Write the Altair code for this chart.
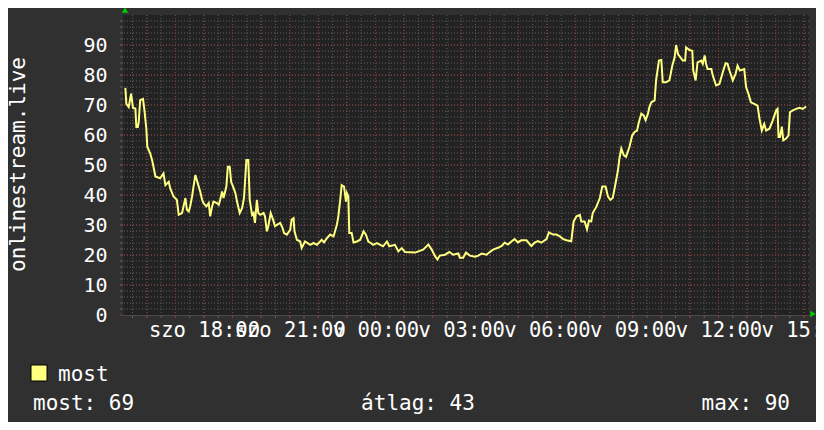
import altair as alt
import pandas as pd

# ---------------- data ----------------
DAY1 = "2024-03-16"   # szombat (szo)
DAY2 = "2024-03-17"   # vasárnap (v)

sat_times = ["15:15", "15:17", "15:22", "15:27", "15:31", "15:36", "15:38", "15:41", "15:43", "15:46",
             "15:52", "15:55", "15:59", "16:01", "16:07", "16:11", "16:14", "16:18", "16:28", "16:35",
             "16:39", "16:46", "16:49", "16:56", "17:03", "17:07", "17:14", "17:17", "17:21", "17:24",
             "17:28", "17:31", "17:35", "17:38", "17:42", "17:45", "17:49", "17:52", "17:56", "17:59",
             "18:05", "18:10", "18:13", "18:17", "18:20", "18:27", "18:31", "18:34", "18:38", "18:41",
             "18:47", "18:50", "18:54", "18:57", "19:01", "19:06", "19:10", "19:15", "19:20", "19:24",
             "19:29", "19:33", "19:36", "19:41", "19:44", "19:47", "19:51", "19:54", "19:58", "20:05",
             "20:08", "20:12", "20:15", "20:20", "20:25", "20:29", "20:34", "20:40", "20:45", "20:48",
             "20:54", "21:01", "21:04", "21:08", "21:10", "21:15", "21:22", "21:25", "21:32", "21:43",
             "21:50", "21:57", "22:04", "22:07", "22:12", "22:18", "22:25", "22:32", "22:39", "22:42",
             "22:46", "22:49", "22:54", "22:58", "23:00", "23:03", "23:05", "23:10", "23:14", "23:21",
             "23:28", "23:35", "23:40", "23:45", "23:50", "23:55"]
sat_values = [75.7, 70.4, 69.3, 73.8, 69.0, 68.8, 62.7, 62.7, 64.3, 71.6,
              72.0, 68.2, 62.0, 56.1, 53.9, 51.7, 49.4, 46.2, 45.6, 47.2,
              43.3, 44.4, 42.3, 39.5, 38.4, 33.4, 34.0, 36.2, 39.0, 35.1,
              34.5, 36.2, 39.5, 42.8, 46.7, 45.0, 42.8, 41.2, 38.4, 37.3,
              36.2, 37.3, 32.9, 36.2, 37.8, 37.3, 36.7, 38.4, 41.2, 39.0,
              42.8, 49.4, 49.4, 44.4, 42.8, 40.6, 37.3, 34.0, 35.6, 39.0,
              51.7, 51.7, 38.4, 33.4, 34.0, 30.7, 38.4, 34.0, 33.4, 34.0,
              32.9, 27.9, 29.6, 34.0, 31.8, 29.6, 30.1, 30.7, 29.0, 27.3,
              26.8, 28.4, 31.8, 32.3, 27.9, 25.1, 24.5, 22.3, 24.5, 23.4,
              24.0, 23.4, 24.5, 25.1, 24.2, 25.6, 26.8, 26.2, 30.1, 32.9,
              38.4, 43.3, 42.8, 37.8, 40.6, 39.5, 27.3, 27.3, 24.2, 24.5,
              25.1, 27.9, 26.8, 24.5, 24.0, 23.4]

sun_times = ["00:03", "00:10", "00:16", "00:24", "00:29", "00:41", "00:48", "00:55", "01:02", "01:23",
             "01:40", "01:51", "01:58", "02:05", "02:10", "02:15", "02:26", "02:35", "02:43", "02:54",
             "02:57", "03:04", "03:10", "03:18", "03:29", "03:36", "03:43", "03:53", "04:00", "04:07",
             "04:17", "04:25", "04:31", "04:38", "04:46", "04:52", "04:59", "05:06", "05:17", "05:27",
             "05:34", "05:41", "05:48", "05:59", "06:04", "06:13", "06:20", "06:27", "06:34", "06:41",
             "06:51", "06:56", "07:02", "07:09", "07:12", "07:19", "07:24", "07:28", "07:33", "07:36",
             "07:44", "07:51", "07:56", "08:03", "08:08", "08:13", "08:18", "08:24", "08:29", "08:32",
             "08:36", "08:41", "08:46", "08:53", "08:59", "09:04", "09:09", "09:13", "09:18", "09:23",
             "09:27", "09:32", "09:35", "09:39", "09:46", "09:49", "09:55", "10:00", "10:03", "10:10",
             "10:17", "10:23", "10:28", "10:31", "10:35", "10:40", "10:45", "10:50", "10:52", "10:59",
             "11:05", "11:07", "11:12", "11:16", "11:24", "11:27", "11:31", "11:34", "11:37", "11:45",
             "11:48", "11:55", "12:02", "12:09", "12:15", "12:19", "12:23", "12:30", "12:36", "12:40",
             "12:45", "12:54", "12:58", "13:03", "13:08", "13:15", "13:22", "13:26", "13:31", "13:36",
             "13:40", "13:47", "13:54", "14:01", "14:04", "14:06", "14:09", "14:13", "14:16", "14:22",
             "14:27", "14:30", "14:36", "14:43", "14:50", "14:57", "15:04"]
sun_values = [24.0, 23.4, 22.9, 24.5, 22.9, 23.4, 21.2, 22.3, 21.0, 20.8,
              21.8, 23.5, 21.8, 19.6, 18.5, 19.8, 20.1, 21.0, 20.1, 20.5,
              19.1, 19.1, 20.8, 19.8, 19.4, 19.8, 20.5, 20.1, 21.0, 21.8,
              22.4, 23.0, 24.1, 23.5, 24.6, 25.3, 24.2, 24.9, 24.9, 23.0,
              24.1, 24.6, 24.1, 25.3, 27.5, 26.8, 26.8, 26.2, 25.3, 24.9,
              24.6, 31.2, 32.9, 33.4, 31.2, 31.2, 28.6, 31.5, 31.2, 34.0,
              36.2, 39.0, 42.8, 42.8, 39.5, 38.4, 39.0, 43.9, 48.3, 52.1,
              55.5, 53.3, 52.7, 56.0, 59.9, 61.0, 61.5, 64.3, 67.1, 66.5,
              64.9, 67.1, 69.3, 70.9, 71.5, 78.2, 84.8, 85.0, 77.6, 77.6,
              78.2, 83.1, 85.9, 90.0, 87.0, 85.9, 84.8, 84.8, 89.2, 88.3,
              88.1, 81.5, 78.2, 84.2, 84.8, 83.7, 86.5, 83.7, 82.0, 82.0,
              79.8, 76.5, 77.0, 80.9, 83.9, 83.7, 81.5, 78.2, 80.4, 83.1,
              81.5, 82.0, 75.9, 73.7, 70.9, 70.4, 69.8, 65.5, 61.5, 63.7,
              61.5, 62.1, 64.9, 68.2, 68.7, 59.3, 59.3, 62.8, 58.2, 58.8,
              59.9, 67.6, 68.2, 68.7, 69.1, 68.7, 69.5]

y_title = "onlinestream.live"
series_name = "most"
stat_now = "most: 69"
stat_avg = "átlag: 43"
stat_max = "max: 90"

y_major = [0, 10, 20, 30, 40, 50, 60, 70, 80, 90]
y_minor = list(range(2, 100, 2))

# ---------------- styling ----------------
BG = "#303030"
PLOT_BG = "#222222"
LINE = "#ffff80"
MINOR = "#5e5e5e"
MAJOR = "#8c3a3a"
FONT = "DejaVu Sans Mono"

df = pd.DataFrame({
    "t": [f"{DAY1}T{t}:00" for t in sat_times] + [f"{DAY2}T{t}:00" for t in sun_times],
    "v": sat_values + sun_values,
})

t0 = alt.DateTime(year=2024, month=3, date=16, hours=15, minutes=10)
t1 = alt.DateTime(year=2024, month=3, date=17, hours=15, minutes=10)
xscale = alt.Scale(domain=[t0, t1])
yscale = alt.Scale(domain=[0, 100], nice=False, zero=True)

fmt = "%Y-%m-%dT%H:%M:%S"
half_hours = pd.date_range(f"{DAY1} 15:30", f"{DAY2} 15:00", freq="30min").strftime(fmt)
hours = pd.date_range(f"{DAY1} 16:00", f"{DAY2} 15:00", freq="h").strftime(fmt)
label_times = [alt.DateTime(year=2024, month=3, date=16 if h >= 18 else 17, hours=h)
               for h in [18, 21, 0, 3, 6, 9, 12, 15]]

df_xminor = pd.DataFrame({"t": list(half_hours)})
df_xmajor = pd.DataFrame({"t": list(hours)})
df_yminor = pd.DataFrame({"v": y_minor})
df_ymajor = pd.DataFrame({"v": y_major})

x_axis = alt.Axis(values=label_times, grid=False, ticks=False, domain=True,
                  domainColor="#4a4a4a",
                  labelExpr="(day(datum.value) == 6 ? 'szo ' : 'v ') + timeFormat(datum.value, '%H:%M')",
                  labelFont=FONT, labelFontSize=20.5, labelColor="#ffffff",
                  labelPadding=5, labelOverlap=False, labelFlush=False, labelBound=False)
y_axis = alt.Axis(values=y_major, grid=False, ticks=False, domain=False,
                  labelFont=FONT, labelFontSize=20, labelColor="#ffffff",
                  labelPadding=16, labelBaseline="middle",
                  titleFont=FONT, titleFontSize=21, titleFontWeight="normal",
                  titleColor="#ffffff", titleAngle=270, titleAlign="center",
                  titleBaseline="middle", titleX=-105, titleY=149)

# identical encodings in every layer so that the shared axes merge cleanly
X = lambda: alt.X("t:T", scale=xscale, title=None, axis=x_axis)
Y = lambda: alt.Y("v:Q", scale=yscale, title=y_title, axis=y_axis)

yminor = alt.Chart(df_yminor).mark_rule(color=MINOR, strokeDash=[1, 2], strokeWidth=1).encode(y=Y())
xminor = alt.Chart(df_xminor).mark_rule(color=MINOR, strokeDash=[1, 2], strokeWidth=1).encode(x=X())
ymajor = alt.Chart(df_ymajor[df_ymajor.v > 0]).mark_rule(color=MAJOR, strokeDash=[1, 2], strokeWidth=1).encode(y=Y())
xmajor = alt.Chart(df_xmajor).mark_rule(color=MAJOR, strokeDash=[1, 2], strokeWidth=1).encode(x=X())

# small ticks outside the plot
xtick_minor = alt.Chart(df_xminor).mark_rule(color=MINOR).encode(
    x=X(), y=alt.value(300), y2=alt.value(303))
xtick_major = alt.Chart(df_xmajor).mark_rule(color=MAJOR).encode(
    x=X(), y=alt.value(300), y2=alt.value(303))
ytick_minor = alt.Chart(df_yminor).mark_rule(color=MINOR).encode(
    y=Y(), x=alt.value(-3), x2=alt.value(0))
ytick_major = alt.Chart(df_ymajor).mark_rule(color=MAJOR).encode(
    y=Y(), x=alt.value(-3), x2=alt.value(0))

line = alt.Chart(df).mark_line(color=LINE, strokeWidth=2, interpolate="linear").encode(
    x=X(), y=Y())

one = pd.DataFrame({"label": [series_name]})
arrow_up = alt.Chart(one).mark_point(shape="triangle-up", filled=True, color="#00cc00", size=40, opacity=1).encode(
    x=alt.value(2), y=alt.value(-5))
arrow_right = alt.Chart(one).mark_point(shape="triangle-right", filled=True, color="#00cc00", size=40, opacity=1).encode(
    x=alt.value(690), y=alt.value(299))

legend_box = alt.Chart(one).mark_rect(fill=LINE, stroke="#000000", strokeWidth=1).encode(
    x=alt.value(-92), x2=alt.value(-76), y=alt.value(350), y2=alt.value(366))
legend_text = alt.Chart(one).mark_text(align="left", baseline="alphabetic", font=FONT,
                                       fontSize=21, color="#ffffff").encode(
    text="label:N", x=alt.value(-65), y=alt.value(366))

stats_df = pd.DataFrame({"now": [stat_now], "avg": [stat_avg], "max": [stat_max]})
txt = dict(baseline="alphabetic", font=FONT, fontSize=21, color="#ffffff")
s_now = alt.Chart(stats_df).mark_text(align="left", **txt).encode(
    text="now:N", x=alt.value(-90), y=alt.value(395))
s_avg = alt.Chart(stats_df).mark_text(align="center", **txt).encode(
    text="avg:N", x=alt.value(295), y=alt.value(395))
s_max = alt.Chart(stats_df).mark_text(align="right", **txt).encode(
    text="max:N", x=alt.value(667), y=alt.value(395))

chart = alt.layer(
    yminor, xminor, ymajor, xmajor,
    xtick_minor, xtick_major, ytick_minor, ytick_major,
    line, arrow_up, arrow_right, legend_box, legend_text, s_now, s_avg, s_max,
).properties(
    width=686, height=300,
    autosize=alt.AutoSizeParams(type="none"),
    padding={"left": 115, "top": 7, "right": 7, "bottom": 107},
    background=BG,
).configure_view(
    fill=PLOT_BG, stroke=None,
)

chart.save("out.html", embed_options={"renderer": "svg", "actions": False})
